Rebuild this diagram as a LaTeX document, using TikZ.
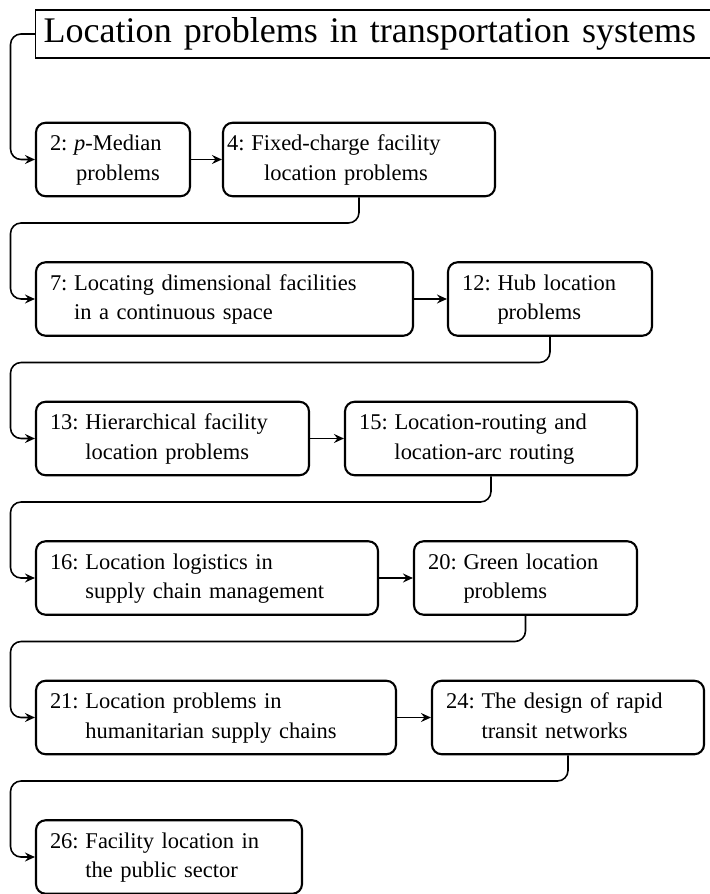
\documentclass[tikz,border=0pt]{standalone}
\usepackage{fontspec}
\setmainfont{Liberation Serif}
\usepackage{tikz}
\usetikzlibrary{arrows.meta,positioning}
\tikzset{
  chapbox/.style={
    rectangle,
    rounded corners=5.5pt,
    draw=black,
    very thick,
    align=left,
    minimum height=1.47cm,
    inner xsep=0.28cm,
    inner ysep=0pt,
    font=\fontsize{12.8}{17}\selectfont
  },
  titlebox/.style={
    rectangle,
    draw=black,
    thick,
    align=left,
    text width=13.4cm,
    minimum height=0.96cm,
    inner xsep=0.16cm,
    inner ysep=0pt,
    font=\fontsize{20.5}{25}\selectfont
  },
  chaparrow/.style={
    -{Stealth[length=2mm,width=1.8mm,inset=0.7mm]},
    line width=0.9pt,
    draw=black,
    rounded corners=6pt
  }
}
\newcommand{\chaptext}[4][l]{\begin{tabular}{@{}l@{\hspace{0.3em}}#1@{}}#2: & #3\\ & #4\end{tabular}}

\begin{document}
\begin{tikzpicture}
\useasboundingbox (0,0) rectangle (14.18,-17.88);

\node[titlebox, anchor=west] (title) at (0.70,-0.68) {Location problems in transportation systems};

\node[chapbox, text width=2.52cm] (n2) at (2.26,-3.19) {\chaptext[c]{2}{\textit{p}-Median}{problems}};
\node[chapbox, text width=5.28cm, inner xsep=0.08cm] (n4) at (7.18,-3.19) {\chaptext[c]{4}{Fixed-charge facility}{location problems}};

\node[chapbox, text width=6.98cm] (n7) at (4.49,-5.98) {\chaptext{7}{Locating dimensional facilities}{in a continuous space}};
\node[chapbox, text width=3.52cm] (n12) at (11.00,-5.98) {\chaptext{12}{Hub location}{problems}};

\node[chapbox, text width=4.90cm] (n13) at (3.45,-8.77) {\chaptext{13}{Hierarchical facility}{location problems}};
\node[chapbox, text width=5.28cm] (n15) at (9.82,-8.77) {\chaptext{15}{Location-routing and}{location-arc routing}};

\node[chapbox, text width=6.28cm] (n16) at (4.14,-11.56) {\chaptext{16}{Location logistics in}{supply chain management}};
\node[chapbox, text width=3.90cm] (n20) at (10.51,-11.56) {\chaptext{20}{Green location}{problems}};

\node[chapbox, text width=6.64cm] (n21) at (4.32,-14.35) {\chaptext{21}{Location problems in}{humanitarian supply chains}};
\node[chapbox, text width=4.88cm] (n24) at (11.36,-14.35) {\chaptext{24}{The design of rapid}{transit networks}};

\node[chapbox, text width=4.76cm] (n26) at (3.38,-17.14) {\chaptext{26}{Facility location in}{the public sector}};

\coordinate (bend0) at (0.21,-0.68);
\coordinate (bend1) at (0.21,-4.46);
\coordinate (bend2) at (0.21,-7.25);
\coordinate (bend3) at (0.21,-10.04);
\coordinate (bend4) at (0.21,-12.83);
\coordinate (bend5) at (0.21,-15.62);

\draw[chaparrow] (title.west) -- (bend0) |- (n2.west);
\draw[chaparrow] (n2.east) -- (n4.west);
\draw[chaparrow] (n4.south) |- (bend1) |- (n7.west);
\draw[chaparrow] (n7.east) -- (n12.west);
\draw[chaparrow] (n12.south) |- (bend2) |- (n13.west);
\draw[chaparrow] (n13.east) -- (n15.west);
\draw[chaparrow] (n15.south) |- (bend3) |- (n16.west);
\draw[chaparrow] (n16.east) -- (n20.west);
\draw[chaparrow] (n20.south) |- (bend4) |- (n21.west);
\draw[chaparrow] (n21.east) -- (n24.west);
\draw[chaparrow] (n24.south) |- (bend5) |- (n26.west);
\end{tikzpicture}
\end{document}
